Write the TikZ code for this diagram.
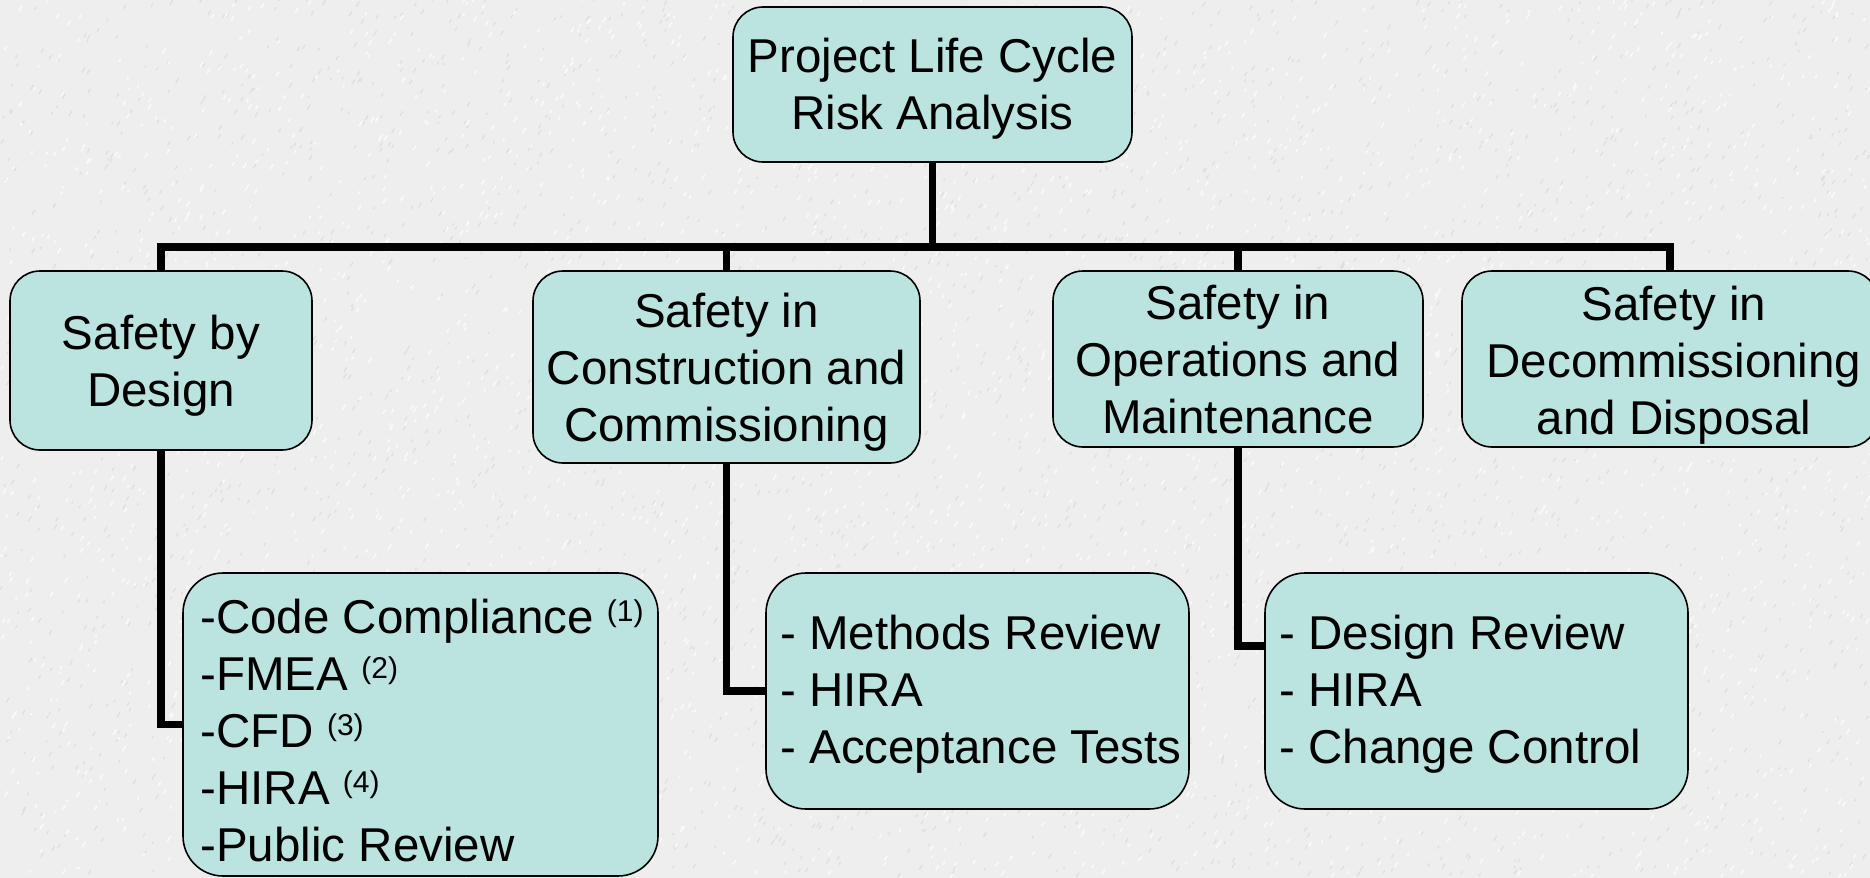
\documentclass[tikz,border=0pt]{standalone}
\usepackage{fontspec}
\setmainfont{Liberation Sans}
\usetikzlibrary{calc}
\definecolor{boxfill}{RGB}{187,228,225}
\definecolor{bgpaper}{RGB}{238,238,238}
\definecolor{speckgray}{RGB}{222,222,222}
\definecolor{specklight}{RGB}{250,250,250}
\newcommand{\supnote}[1]{\raisebox{6pt}{\fontsize{15pt}{15pt}\selectfont(#1)}}
\begin{document}
\begin{tikzpicture}[x=0.5pt,y=-0.5pt,
  box/.style={draw=black, line width=0.8pt, fill=boxfill, rounded corners=15pt, inner sep=0pt},
  lbox/.style={box, rounded corners=20pt},
  lbl/.style={inner sep=0pt, align=center, font=\fontsize{23.75pt}{28.5pt}\selectfont},
  llbl/.style={inner sep=0pt, align=left, anchor=west, font=\fontsize{23.75pt}{28.5pt}\selectfont},
  conn/.style={line width=3.7pt, line join=miter, draw=black},
  speck/.style={draw=speckgray, line width=0.6pt, line cap=round},
  specklt/.style={draw=specklight, line width=0.8pt, line cap=round}]
\fill[bgpaper] (0,0) rectangle (1870,878);
\begin{scope}
\clip (0,0) rectangle (1870,878);
\pgfmathsetseed{4242}
\foreach \i in {1,...,3000} {
  \pgfmathsetmacro{\xa}{rnd*1870}
  \pgfmathsetmacro{\ya}{rnd*878}
  \pgfmathsetmacro{\ln}{1.5+rnd*3}
  \draw[speck] (\xa,\ya) -- ++(0.6*\ln,-\ln);
}
\foreach \i in {1,...,3000} {
  \pgfmathsetmacro{\xa}{rnd*1870}
  \pgfmathsetmacro{\ya}{rnd*878}
  \pgfmathsetmacro{\ln}{1.5+rnd*3}
  \draw[specklt] (\xa,\ya) -- ++(0.6*\ln,-\ln);
}
\end{scope}
\useasboundingbox (0,0) rectangle (1870,878);

% boxes
\node[box, minimum width=199.5pt, minimum height=77.5pt] (root) at (932.5,84.5) {};
\node[box, minimum width=151pt, minimum height=89.5pt] (b1) at (161,360.5) {};
\node[box, minimum width=193.5pt, minimum height=96pt] (b2) at (726.5,367) {};
\node[box, minimum width=185pt, minimum height=88pt] (b3) at (1238,359) {};
\node[box, minimum width=208pt, minimum height=88pt] (b4) at (1670,359) {};
\node[lbox, minimum width=237.5pt, minimum height=151.5pt] (l1) at (420.5,724.5) {};
\node[lbox, minimum width=211.5pt, minimum height=118pt] (l2) at (977.5,691) {};
\node[lbox, minimum width=211.5pt, minimum height=118pt] (l3) at (1476.5,691) {};

% texts
\node[lbl] (troot) at (932.5,89) {Project Life Cycle\\Risk Analysis};
\node[lbl] (tb1) at (161,365.5) {Safety by\\Design};
\node[lbl] (tb2) at (726.5,372.5) {Safety in\\Construction and\\Commissioning};
\node[lbl] (tb3) at (1238,360) {Safety in\\Operations and\\Maintenance};
\node[lbl] (tb4) at (1674,365) {Safety in\\Decommissioning\\and Disposal};
\node[llbl] (tl1) at (200,730.5) {-Code Compliance \supnote{1}\\-FMEA \supnote{2}\\-CFD \supnote{3}\\-HIRA \supnote{4}\\-Public Review};
\node[llbl] (tl2) at (780,694.5) {- Methods Review\\- HIRA\\- Acceptance Tests};
\node[llbl] (tl3) at (1279,694.5) {- Design Review\\- HIRA\\- Change Control};

% connectors
\coordinate (bus) at (0,247);
\draw[conn] (root.south) -- (root.south |- bus);
\draw[conn] (b1.north) -- (b1.north |- bus) -- (b4.north |- bus) -- (b4.north);
\draw[conn] (b2.north) -- (b2.north |- bus);
\draw[conn] (b3.north) -- (b3.north |- bus);
\draw[conn] (b1.south) |- (l1.west);
\draw[conn] (b2.south) |- (l2.west);
\draw[conn] (b3.south) |- ([yshift=22.5pt]l3.west);
\end{tikzpicture}
\end{document}
